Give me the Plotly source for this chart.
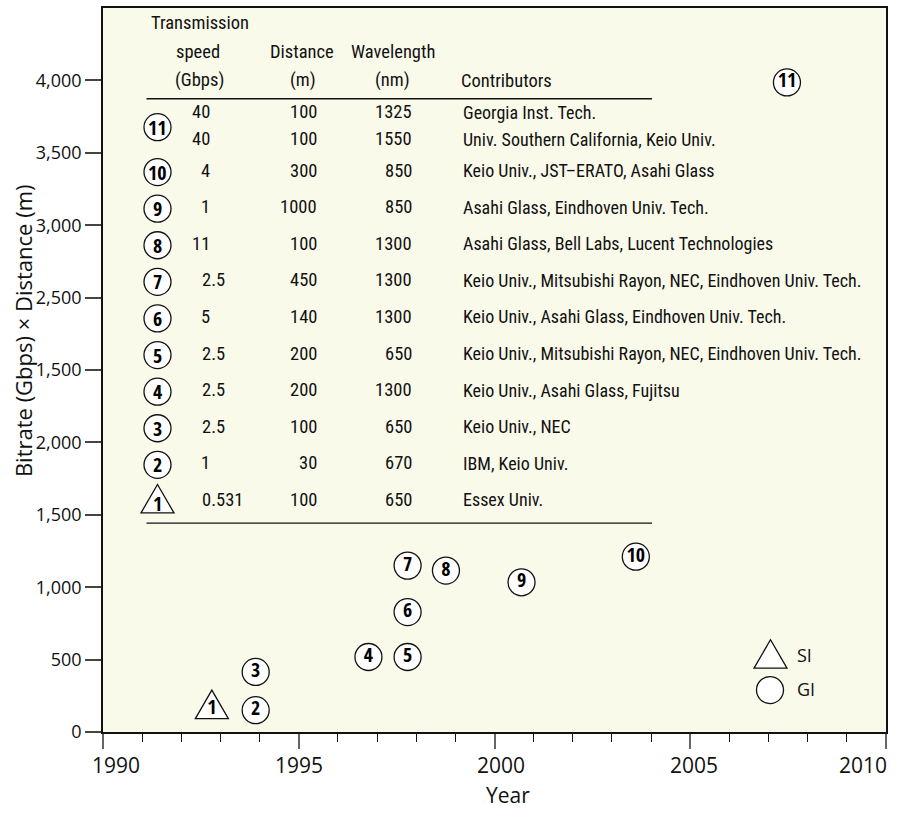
import plotly.graph_objects as go

# ---------------- data ----------------
point_ids = ["1", "2", "3", "4", "5", "6", "7", "8", "9", "10", "11"]
fiber_type = ["SI", "GI", "GI", "GI", "GI", "GI", "GI", "GI", "GI", "GI", "GI"]
year = [1992.78, 1993.9, 1993.9, 1996.78, 1997.78, 1997.78, 1997.78, 1998.76, 2000.69, 2003.61, 2007.47]
bitrate_distance = [158, 151, 415, 518, 518, 828, 1149, 1115, 1034, 1211, 4486]

y_tickvals = [0, 500, 1000, 1500, 2000, 2500, 3000, 3500, 4000, 4500]
y_ticktext = ["0", "500", "1,000", "1,500", "2,000", "1,500", "2,500", "3,000", "3,500", "4,000"]
x_tickvals = [1990, 1995, 2000, 2005, 2010]
x_ticktext = ["1990", "1995", "2000", "2005", "2010"]
x_label_shift = [13, 0, 6, 4, -23]

row_ids = ["11", "11", "10", "9", "8", "7", "6", "5", "4", "3", "2", "1"]
speed = ["40", "40", "4", "1", "11", "2.5", "5", "2.5", "2.5", "2.5", "1", "0.531"]
distance = ["100", "100", "300", "1000", "100", "450", "140", "200", "200", "100", "30", "100"]
wavelength = ["1325", "1550", "850", "850", "1300", "1300", "1300", "650", "1300", "650", "670", "650"]
contributors = [
    "Georgia Inst. Tech.",
    "Univ. Southern California, Keio Univ.",
    "Keio Univ., JST–ERATO, Asahi Glass",
    "Asahi Glass, Eindhoven Univ. Tech.",
    "Asahi Glass, Bell Labs, Lucent Technologies",
    "Keio Univ., Mitsubishi Rayon, NEC, Eindhoven Univ. Tech.",
    "Keio Univ., Asahi Glass, Eindhoven Univ. Tech.",
    "Keio Univ., Mitsubishi Rayon, NEC, Eindhoven Univ. Tech.",
    "Keio Univ., Asahi Glass, Fujitsu",
    "Keio Univ., NEC",
    "IBM, Keio Univ.",
    "Essex Univ.",
]

# ---------------- layout helpers ----------------
W, H = 900, 813
L, R, T, B = 103, 14, 6, 81
PW, PH = W - L - R, H - T - B


def px(x):
    return (x - L) / PW


def py(y):
    return (H - B - y) / PH


COND = "Roboto Condensed, Liberation Sans Narrow, sans-serif"
BOLDCOND = "Open Sans Condensed, Roboto Condensed, sans-serif"
SANS = "Open Sans, DejaVu Sans, sans-serif"
INK = "#111111"
BG = "#FAFAEB"

tri_path = "M -16.5,-9.5 L 16.5,-9.5 L 0,19 Z"

fig = go.Figure()

gi_x = [x for x, f in zip(year, fiber_type) if f == "GI"]
gi_y = [v for v, f in zip(bitrate_distance, fiber_type) if f == "GI"]
gi_t = [t for t, f in zip(point_ids, fiber_type) if f == "GI"]
si_x = [x for x, f in zip(year, fiber_type) if f == "SI"]
si_y = [v for v, f in zip(bitrate_distance, fiber_type) if f == "SI"]
si_t = [t for t, f in zip(point_ids, fiber_type) if f == "SI"]

badge_font = dict(family=BOLDCOND, size=20, color="black", weight="bold")

fig.add_trace(go.Scatter(
    x=gi_x, y=gi_y, text=gi_t, mode="markers+text", textposition="middle center",
    marker=dict(symbol="circle", size=27, color="white", line=dict(color=INK, width=1.3)),
    textfont=badge_font, cliponaxis=False, showlegend=False, hoverinfo="skip"))
fig.add_trace(go.Scatter(
    x=si_x, y=si_y, text=si_t, mode="text", textposition="middle center",
    textfont=badge_font, cliponaxis=False, showlegend=False, hoverinfo="skip"))

shapes = []
annotations = []

# SI triangles in plot (anchored on data)
for x, v in zip(si_x, si_y):
    shapes.append(dict(type="path", xref="x", yref="y", xsizemode="pixel", ysizemode="pixel",
                       xanchor=x, yanchor=v, path=tri_path, fillcolor="white",
                       line=dict(color=INK, width=1.3), layer="below"))

# x tick labels
for v, t, s in zip(x_tickvals, x_ticktext, x_label_shift):
    annotations.append(dict(x=v, y=0, xref="x", yref="paper", text=t, showarrow=False,
                            xanchor="center", yanchor="middle", xshift=s, yshift=-33,
                            font=dict(family=SANS, size=21, color=INK)))

# axis titles
annotations.append(dict(x=px(508), y=py(795), xref="paper", yref="paper", text="Year",
                        xanchor="center", yanchor="middle",
                        showarrow=False, font=dict(family=SANS, size=21, color=INK)))
annotations.append(dict(x=px(23), y=py(330), xref="paper", yref="paper",
                        text="Bitrate (Gbps) × Distance (m)", textangle=-90,
                        xanchor="center", yanchor="middle",
                        showarrow=False, font=dict(family=SANS, size=22, color=INK)))

# ---------------- table ----------------
row_y = [110.5, 137.5] + [169 + 36.7 * k for k in range(10)]
TS = 18.5
hdr_font = dict(family=COND, size=TS, color=INK)
for txt, cx, cy in [("Transmission", 200, 21), ("speed", 198, 50), ("(Gbps)", 199, 78),
                    ("Distance", 302, 50), ("(m)", 303, 78),
                    ("Wavelength", 393, 50), ("(nm)", 392, 78)]:
    annotations.append(dict(x=px(cx), y=py(cy), xref="paper", yref="paper", text=txt,
                            showarrow=False, xanchor="center", yanchor="middle", font=hdr_font))
annotations.append(dict(x=px(459), y=py(79), xref="paper", yref="paper", text="Contributors",
                        showarrow=False, xanchor="left", yanchor="middle", font=hdr_font))

for yy in (97, 522.5):
    shapes.append(dict(type="line", xref="paper", yref="paper", x0=px(146.5), x1=px(652),
                       y0=py(yy), y1=py(yy), line=dict(color=INK, width=1.3)))

cell_font = dict(family=COND, size=TS, color=INK)
contrib_font = dict(family=COND, size=18, color=INK)
for i in range(len(row_ids)):
    yy = py(row_y[i])
    if "." in speed[i]:
        annotations.append(dict(x=px(200), y=yy, xref="paper", yref="paper", text=speed[i],
                                showarrow=False, xanchor="left", yanchor="middle", font=cell_font))
    else:
        annotations.append(dict(x=px(212), y=yy, xref="paper", yref="paper", text=speed[i],
                                showarrow=False, xanchor="right", yanchor="middle", font=cell_font))
    annotations.append(dict(x=px(319), y=yy, xref="paper", yref="paper", text=distance[i],
                            showarrow=False, xanchor="right", yanchor="middle", font=cell_font))
    annotations.append(dict(x=px(414), y=yy, xref="paper", yref="paper", text=wavelength[i],
                            showarrow=False, xanchor="right", yanchor="middle", font=cell_font))
    annotations.append(dict(x=px(461), y=yy, xref="paper", yref="paper", text=contributors[i],
                            showarrow=False, xanchor="left", yanchor="middle", font=contrib_font))

# table badges
seen = []
for i, rid in enumerate(row_ids):
    if rid in seen:
        continue
    idxs = [j for j, r in enumerate(row_ids) if r == rid]
    cy = sum(row_y[j] for j in idxs) / len(idxs) + 1.5
    cx = 157.5
    seen.append(rid)
    ftype = fiber_type[point_ids.index(rid)]
    if ftype == "SI":
        cy = cy + 2
        shapes.append(dict(type="path", xref="paper", yref="paper", xsizemode="pixel",
                           ysizemode="pixel", xanchor=px(cx), yanchor=py(cy), path=tri_path,
                           fillcolor="white", line=dict(color=INK, width=1.3)))
    else:
        shapes.append(dict(type="circle", xref="paper", yref="paper", xsizemode="pixel",
                           ysizemode="pixel", xanchor=px(cx), yanchor=py(cy), x0=-13.5, x1=13.5,
                           y0=-13.5, y1=13.5, fillcolor="white", line=dict(color=INK, width=1.3)))
    annotations.append(dict(x=px(cx), y=py(cy), xref="paper", yref="paper", text=rid,
                            showarrow=False, xanchor="center", yanchor="middle", font=badge_font))

# ---------------- key ----------------
shapes.append(dict(type="path", xref="paper", yref="paper", xsizemode="pixel", ysizemode="pixel",
                   xanchor=px(770.5), yanchor=py(658.5), path=tri_path, fillcolor="white",
                   line=dict(color=INK, width=1.3)))
shapes.append(dict(type="circle", xref="paper", yref="paper", xsizemode="pixel", ysizemode="pixel",
                   xanchor=px(770), yanchor=py(690), x0=-13.5, x1=13.5, y0=-13.5, y1=13.5,
                   fillcolor="white", line=dict(color=INK, width=1.3)))
for txt, cy in [("SI", 655), ("GI", 689)]:
    annotations.append(dict(x=px(795), y=py(cy), xref="paper", yref="paper", text=txt,
                            showarrow=False, xanchor="left", yanchor="middle",
                            font=dict(family=SANS, size=18, color=INK)))

fig.update_layout(
    width=W, height=H,
    margin=dict(l=L, r=R, t=T, b=B, pad=0),
    paper_bgcolor="white", plot_bgcolor=BG,
    shapes=shapes, annotations=annotations,
    xaxis=dict(range=[1990, 2010], tickvals=x_tickvals, showticklabels=False,
               ticks="outside", ticklen=15, tickwidth=2, tickcolor="#666666",
               minor=dict(dtick=1, ticks="outside", ticklen=8, tickwidth=1.2, tickcolor=INK),
               showline=True, linecolor=INK, linewidth=1.5, mirror=True,
               showgrid=False, zeroline=False, fixedrange=True),
    yaxis=dict(range=[0, 5000], tickvals=y_tickvals, ticktext=y_ticktext,
               ticks="outside", ticklen=16, tickwidth=1.5, tickcolor="#444444",
               tickfont=dict(family=SANS, size=18, color=INK),
               showline=True, linecolor=INK, linewidth=1.5, mirror=True,
               showgrid=False, zeroline=False, fixedrange=True),
)

fig.write_html("out.html", config={"displayModeBar": False},
               post_script="document.body.style.margin='0';")
